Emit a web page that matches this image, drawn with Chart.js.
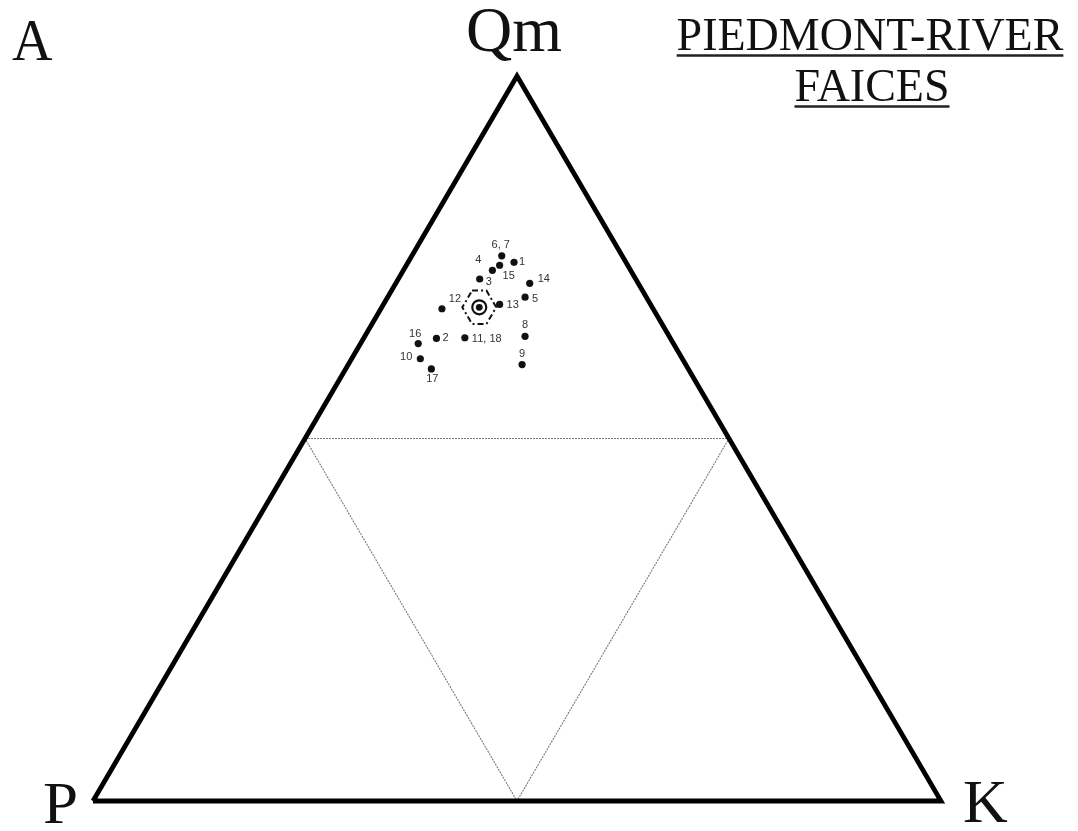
<!DOCTYPE html>
<html>
<head>
<meta charset="utf-8">
<script src="https://cdn.jsdelivr.net/npm/chart.js@4/dist/chart.umd.min.js"></script>
<style>
  html, body { margin: 0; padding: 0; background: #ffffff; }
  #wrap { width: 1078px; height: 831px; position: relative; }
</style>
</head>
<body>
<div id="wrap"><canvas id="tern" width="1078" height="831"></canvas></div>
<script>
// Sandstone modal compositions (percent): monocrystalline quartz, plagioclase, K-feldspar
const sampleLabels = ['1', '2', '3', '4', '5', '6, 7', '8', '9', '10', '11, 18', '12', '13', '14', '15', '16', '17'];
const sampleQm = [74.3, 63.8, 72.0, 73.2, 69.5, 75.2, 64.1, 60.2, 61.0, 63.9, 67.9, 68.5, 71.4, 73.9, 63.1, 59.6];
const sampleP  = [13.2, 27.6, 18.4, 16.3, 14.3, 14.2, 17.0, 19.3, 30.9, 24.2, 24.9, 17.8, 12.8, 15.1, 30.1, 30.3];
const sampleK  = [12.5,  8.6,  9.6, 10.5, 16.2, 10.6, 18.9, 20.5,  8.1, 11.9,  7.2, 13.7, 15.8, 11.0,  6.8, 10.1];

// Facies mean and one standard deviation of each pole
const meanQmPK = [68.1, 20.4, 11.5];
const stdQmPK  = [2.3, 2.0, 2.0];

// Triangle corners (P, K, Qm) and the mid-side sub-triangle
const cornerQm = [0, 0, 100, 0];
const cornerP  = [100, 0, 0, 100];
const cornerK  = [0, 100, 0, 0];
const midQm = [50, 50, 0, 50];
const midP  = [50, 0, 50, 50];
const midK  = [0, 50, 50, 0];

// Apex and corner titles
const poleNames = ['Qm', 'P', 'K'];
const panelLetter = 'A';
const titleLines = ['PIEDMONT-RIVER', 'FAICES'];

// Ternary (Qm, P, K) -> cartesian on a unit-wide triangle
function toXY(qm, p, k) {
  const s = qm + p + k;
  const q = qm / s, kk = k / s;
  return { x: kk + q / 2, y: q };
}
function pointsFrom(qmArr, pArr, kArr) {
  return qmArr.map((q, i) => toXY(q, pArr[i], kArr[i]));
}

// Standard-deviation hexagon: bounded by Qm, P and K = mean ± std
function stdHexagon(mean, sd) {
  const [m, p, k] = mean, [sq, sp, sk] = sd;
  const verts = [
    [m + sq, null, k - sk],
    [m + sq, p - sp, null],
    [null, p - sp, k + sk],
    [m - sq, null, k + sk],
    [m - sq, p + sp, null],
    [null, p + sp, k - sk]
  ].map(v => {
    const miss = 100 - v.filter(a => a !== null).reduce((a, b) => a + b, 0);
    return v.map(a => a === null ? miss : a);
  });
  verts.push(verts[0]);
  return verts.map(v => toXY(v[0], v[1], v[2]));
}

// Label offsets (px) relative to each sample dot, in sampleLabels order
const labelPlacement = [
  [5, 0, 'left'], [6, 0, 'left'], [6, 3, 'left'], [-14, -10, 'center'],
  [7, 2, 'left'], [-1, -11, 'center'], [0, -11, 'center'], [0, -11, 'center'],
  [-8, -2, 'right'], [7, 1, 'left'], [13, -10, 'center'], [7, 1, 'left'],
  [8, -4, 'left'], [3, 11, 'left'], [-3, -10, 'center'], [1, 10, 'center']
];

const serif = '"Liberation Serif", "Times New Roman", serif';

function drawText(ctx, txt, x, y, size, align, sx) {
  ctx.save();
  ctx.font = size + 'px ' + serif;
  ctx.fillStyle = '#111';
  ctx.textBaseline = 'alphabetic';
  const w = ctx.measureText(txt).width * sx;
  let left = x;
  if (align === 'center') left = x - w / 2;
  ctx.translate(left, y);
  ctx.scale(sx, 1);
  ctx.textAlign = 'left';
  ctx.fillText(txt, 0, 0);
  ctx.restore();
  return { left: left, right: left + w };
}

const annotate = {
  id: 'annotate',
  afterDatasetsDraw(chart) {
    const ctx = chart.ctx;
    // sample numbers
    const meta = chart.getDatasetMeta(3);
    ctx.save();
    ctx.font = '11px "Liberation Sans", Arial, sans-serif';
    ctx.fillStyle = '#333';
    ctx.textBaseline = 'middle';
    meta.data.forEach((el, i) => {
      const [dx, dy, al] = labelPlacement[i];
      ctx.textAlign = al;
      ctx.fillText(sampleLabels[i], el.x + dx, el.y + dy);
    });
    ctx.restore();

    // pole names and panel letter
    drawText(ctx, panelLetter, 12, 60, 59, 'left', 0.95);
    drawText(ctx, poleNames[0], 466, 51, 64, 'left', 1.0);
    drawText(ctx, poleNames[1], 43, 823, 60, 'left', 1.05);
    drawText(ctx, poleNames[2], 963, 822, 62, 'left', 1.0);

    // underlined facies title
    ctx.save();
    ctx.strokeStyle = '#222';
    ctx.lineWidth = 2.5;
    const l1 = drawText(ctx, titleLines[0], 870, 50, 46, 'center', 1.0);
    ctx.beginPath(); ctx.moveTo(l1.left, 55.5); ctx.lineTo(l1.right, 55.5); ctx.stroke();
    const l2 = drawText(ctx, titleLines[1], 872, 101, 46, 'center', 1.0);
    ctx.beginPath(); ctx.moveTo(l2.left, 106.5); ctx.lineTo(l2.right, 106.5); ctx.stroke();
    ctx.restore();
  }
};

new Chart(document.getElementById('tern'), {
  type: 'scatter',
  data: {
    datasets: [
      {
        data: pointsFrom(cornerQm, cornerP, cornerK),
        showLine: true, borderColor: '#000', borderWidth: 4.8,
        borderJoinStyle: 'miter', pointRadius: 0, clip: false
      },
      {
        data: pointsFrom(midQm, midP, midK),
        showLine: true, borderColor: '#7a7a7a', borderWidth: 1.1,
        borderDash: [2, 1], pointRadius: 0, clip: false
      },
      {
        data: stdHexagon(meanQmPK, stdQmPK),
        showLine: true, borderColor: '#111', borderWidth: 2,
        borderDash: [6, 3, 2, 3], pointRadius: 0, clip: false
      },
      {
        data: pointsFrom(sampleQm, sampleP, sampleK),
        pointRadius: 3.6, pointBackgroundColor: '#111', pointBorderWidth: 0,
        clip: false
      },
      {
        data: [toXY(meanQmPK[0], meanQmPK[1], meanQmPK[2])],
        pointRadius: 7, pointBackgroundColor: 'rgba(0,0,0,0)',
        pointBorderColor: '#111', pointBorderWidth: 2.2, clip: false
      },
      {
        data: [toXY(meanQmPK[0], meanQmPK[1], meanQmPK[2])],
        pointRadius: 3.4, pointBackgroundColor: '#111', pointBorderWidth: 0,
        clip: false
      }
    ]
  },
  options: {
    responsive: false,
    devicePixelRatio: 1,
    animation: false,
    events: [],
    layout: { padding: { left: 93, right: 137, top: 76, bottom: 30 } },
    scales: {
      x: { type: 'linear', min: 0, max: 1, display: false },
      y: { type: 'linear', min: 0, max: 1, display: false }
    },
    plugins: { legend: { display: false }, tooltip: { enabled: false } }
  },
  plugins: [annotate]
});
</script>
</body>
</html>
